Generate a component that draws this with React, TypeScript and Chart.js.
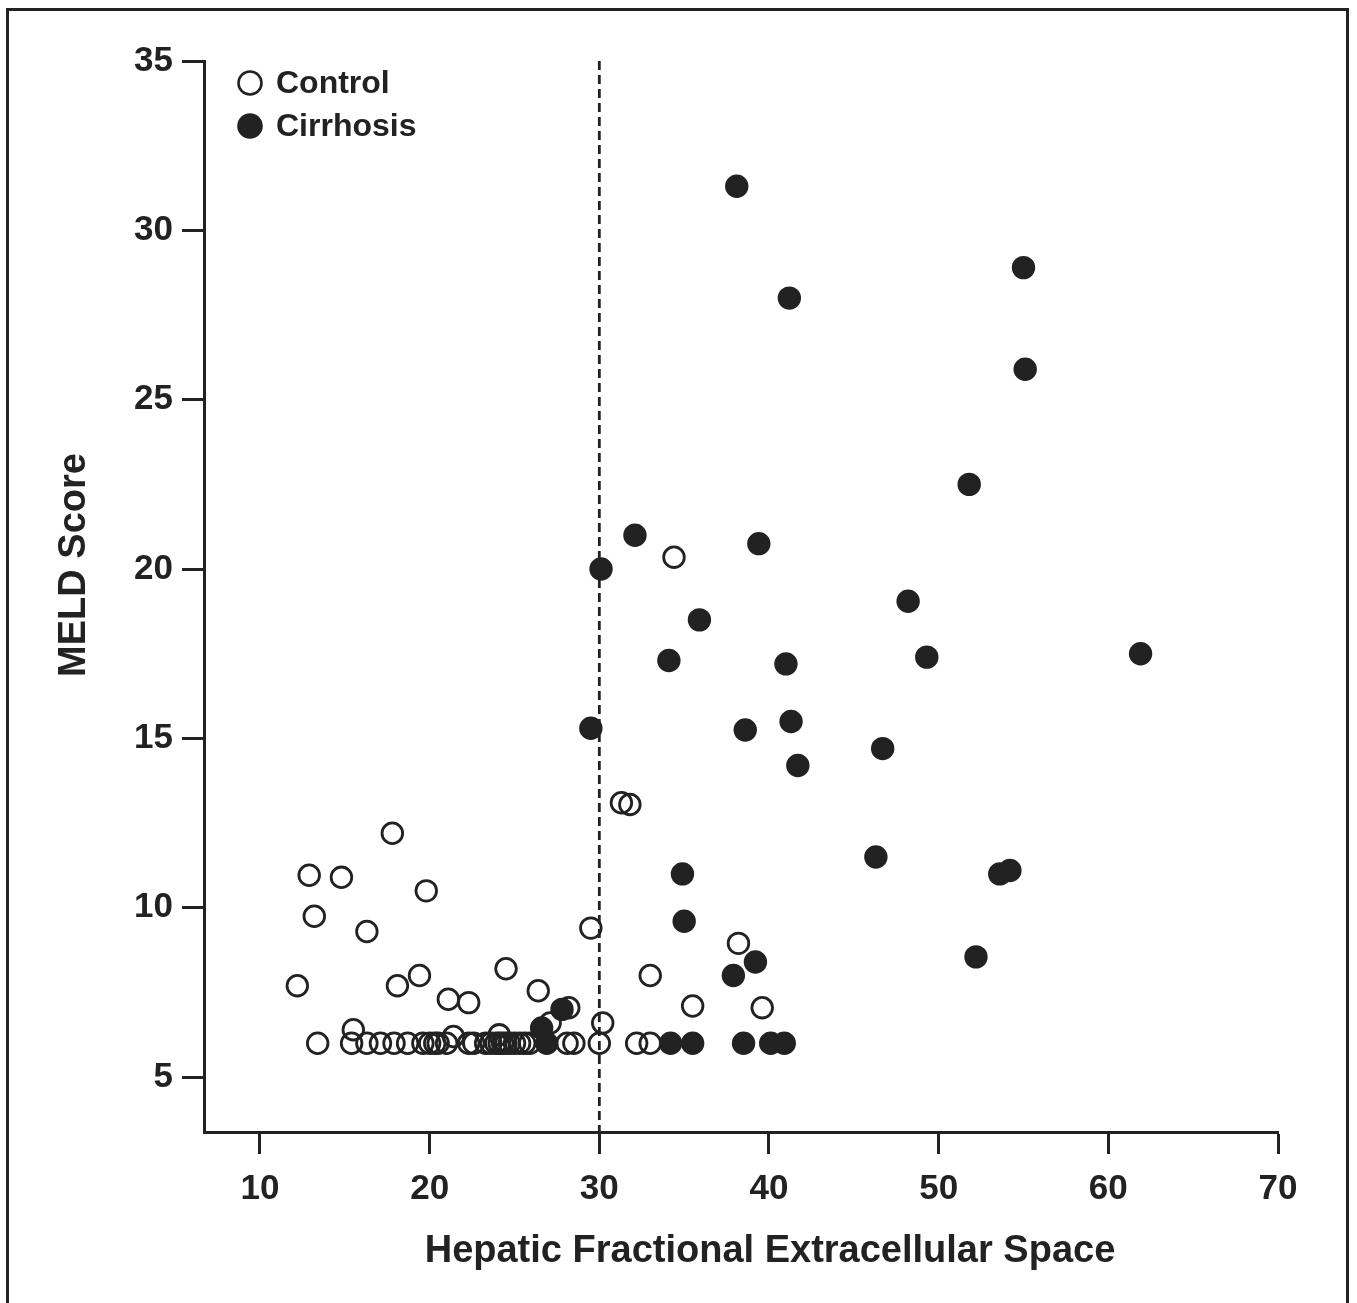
import React, { useEffect, useRef } from "react";
import { Chart, registerables } from "chart.js";

Chart.register(...registerables);

const xTicks = [10, 20, 30, 40, 50, 60, 70];
const yTicks = [5, 10, 15, 20, 25, 30, 35];
const xAxisTitle = "Hepatic Fractional Extracellular Space";
const yAxisTitle = "MELD Score";
const cutoffX = 30;

const controlX = [
  12.2, 12.9, 13.2, 14.8, 15.5, 16.3, 17.8, 18.1, 19.4, 19.8, 21.1, 22.3, 24.5, 26.4, 28.2, 29.5,
  31.3, 31.8, 34.4, 38.2, 35.5, 39.6, 33.0, 30.2, 21.4, 24.1, 27.1,
  13.4, 15.4, 16.3, 17.1, 17.9, 18.7, 19.6, 20.0, 20.3, 20.5, 21.0, 22.3, 22.6, 23.3, 23.6, 23.9,
  24.1, 24.3, 24.5, 24.7, 25.0, 25.3, 25.6, 25.9, 28.1, 28.5, 30.0, 32.2, 33.0,
];
const controlY = [
  7.7, 10.96, 9.75, 10.9, 6.4, 9.3, 12.2, 7.7, 8.0, 10.5, 7.3, 7.2, 8.2, 7.55, 7.05, 9.4,
  13.1, 13.05, 20.35, 8.95, 7.1, 7.05, 8.0, 6.6, 6.2, 6.25, 6.6,
  6, 6, 6, 6, 6, 6, 6, 6, 6, 6, 6, 6, 6, 6, 6, 6,
  6, 6, 6, 6, 6, 6, 6, 6, 6, 6, 6, 6, 6,
];

const cirrhosisX = [
  38.1, 55.0, 41.2, 55.1, 51.8, 32.1, 39.4, 30.1, 48.2, 35.9, 34.1, 41.0, 49.3, 61.9, 29.5, 41.3,
  38.6, 46.7, 41.7, 46.3, 34.9, 53.6, 54.2, 35.0, 52.2, 37.9, 39.2, 27.8, 26.6, 26.9, 34.2, 35.5,
  38.5, 40.1, 40.9,
];
const cirrhosisY = [
  31.3, 28.9, 28.0, 25.9, 22.5, 21.0, 20.75, 20.0, 19.05, 18.5, 17.3, 17.2, 17.4, 17.5, 15.3, 15.5,
  15.25, 14.7, 14.2, 11.5, 11.0, 11.0, 11.1, 9.6, 8.55, 8.0, 8.4, 7.0, 6.45, 6.0, 6, 6,
  6, 6, 6,
];

const INK = "#222";
const FONT = "'Liberation Sans', Arial, Helvetica, sans-serif";

const overlayPlugin = {
  id: "overlay",
  beforeDatasetsDraw(chart: any) {
    const { ctx, chartArea, scales } = chart;
    const px = scales.x.getPixelForValue(cutoffX);
    ctx.save();
    ctx.strokeStyle = INK;
    ctx.lineWidth = 2.8;
    ctx.setLineDash([9, 5]);
    ctx.beginPath();
    ctx.moveTo(px, chartArea.top);
    ctx.lineTo(px, chartArea.bottom);
    ctx.stroke();
    ctx.restore();
  },
  afterDraw(chart: any) {
    const { ctx, chartArea } = chart;
    ctx.save();
    ctx.fillStyle = INK;
    ctx.font = `bold 38px ${FONT}`;
    ctx.textAlign = "center";
    ctx.textBaseline = "middle";
    ctx.fillText(xAxisTitle, chartArea.left + 566, chartArea.bottom + 120);
    ctx.save();
    ctx.translate(75, chartArea.top + 504);
    ctx.rotate(-Math.PI / 2);
    ctx.fillText(yAxisTitle, 0, 0);
    ctx.restore();
    const x0 = chartArea.left + 46;
    const y0 = chartArea.top + 22;
    chart.data.datasets.forEach((ds: any, i: number) => {
      const cy = y0 + i * 43;
      ctx.beginPath();
      ctx.arc(x0, cy, 11.5, 0, Math.PI * 2);
      if (ds.backgroundColor !== "rgba(0,0,0,0)") {
        ctx.fillStyle = ds.backgroundColor;
        ctx.fill();
      }
      ctx.lineWidth = 2.6;
      ctx.strokeStyle = INK;
      ctx.stroke();
      ctx.fillStyle = INK;
      ctx.font = `bold 32px ${FONT}`;
      ctx.textBaseline = "middle";
      ctx.textAlign = "left";
      ctx.fillText(ds.label, x0 + 26, cy + 1);
    });
    ctx.restore();
  },
};

export default function App() {
  const ref = useRef<HTMLCanvasElement | null>(null);
  useEffect(() => {
    if (!ref.current) return;
    const control = controlX.map((x, i) => ({ x, y: controlY[i] }));
    const cirrhosis = cirrhosisX.map((x, i) => ({ x, y: cirrhosisY[i] }));
    const axisCommon = {
      border: { display: true, color: INK, width: 3 },
      grid: {
        display: true,
        drawOnChartArea: false,
        drawTicks: true,
        tickLength: 22,
        tickWidth: 3,
        tickColor: INK,
        color: INK,
      },
    };
    const chart = new Chart(ref.current, {
      type: "scatter",
      data: {
        datasets: [
          {
            label: "Control",
            data: control,
            backgroundColor: "rgba(0,0,0,0)",
            borderColor: INK,
            borderWidth: 2.8,
            pointRadius: 10.3,
          },
          {
            label: "Cirrhosis",
            data: cirrhosis,
            backgroundColor: INK,
            borderColor: INK,
            borderWidth: 2.8,
            pointRadius: 10.3,
          },
        ],
      },
      options: {
        responsive: false,
        animation: false,
        layout: { padding: { top: 61, right: 79, bottom: 0, left: 0 } },
        plugins: { legend: { display: false }, tooltip: { enabled: false } },
        scales: {
          x: {
            type: "linear",
            min: 6.7,
            max: 70,
            ...axisCommon,
            afterFit: (s: any) => {
              s.height = 171;
            },
            afterBuildTicks: (s: any) => {
              s.ticks = xTicks.map((v) => ({ value: v }));
            },
            ticks: {
              color: INK,
              font: { family: FONT, size: 35, weight: "bold" },
              padding: 14,
              maxRotation: 0,
            },
            title: { display: false },
          },
          y: {
            type: "linear",
            min: 3.38,
            max: 35,
            ...axisCommon,
            afterFit: (s: any) => {
              s.width = 204;
            },
            afterBuildTicks: (s: any) => {
              s.ticks = yTicks.map((v) => ({ value: v }));
            },
            ticks: {
              color: INK,
              font: { family: FONT, size: 35, weight: "bold" },
              padding: 9,
            },
            title: { display: false },
          },
        },
      },
      plugins: [overlayPlugin],
    } as any);
    return () => chart.destroy();
  }, []);

  return (
    <div
      style={{
        position: "absolute",
        left: 0,
        top: 0,
        width: 1357,
        height: 1303,
        overflow: "hidden",
        background: "#fff",
      }}
    >
      <div
        style={{
          position: "absolute",
          left: 6,
          top: 8,
          width: 1337,
          height: 1320,
          borderLeft: `3px solid ${INK}`,
          borderTop: `3px solid ${INK}`,
          borderRight: `3px solid ${INK}`,
        }}
      />
      <canvas
        ref={ref}
        width={1357}
        height={1303}
        style={{ position: "absolute", left: 0, top: 0, width: 1357, height: 1303 }}
      />
    </div>
  );
}
